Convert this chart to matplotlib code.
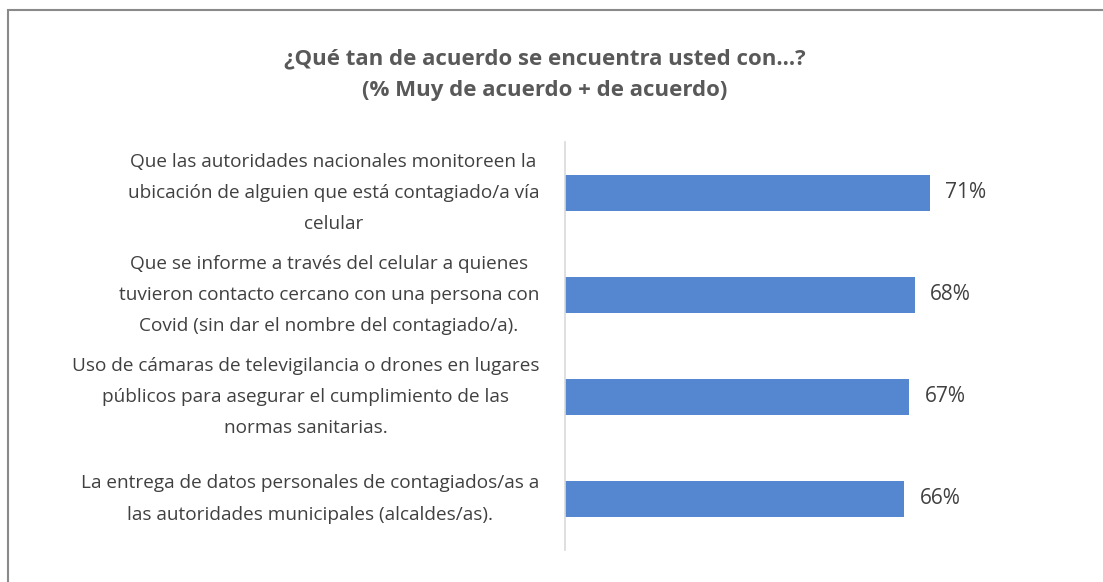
import matplotlib.pyplot as plt
from matplotlib.patches import Rectangle

# Datos
categorias = [
    "Que las autoridades nacionales monitoreen la\nubicación de alguien que está contagiado/a vía\ncelular",
    "Que se informe a través del celular a quienes\ntuvieron contacto cercano con una persona con\nCovid (sin dar el nombre del contagiado/a).",
    "Uso de cámaras de televigilancia o drones en lugares\npúblicos para asegurar el cumplimiento de las\nnormas sanitarias.",
    "La entrega de datos personales de contagiados/as a\nlas autoridades municipales (alcaldes/as).",
]
valores = [71, 68, 67, 66]
titulo = "¿Qué tan de acuerdo se encuentra usted con...?\n(% Muy de acuerdo + de acuerdo)"

plt.rcParams['font.family'] = ['Open Sans', 'DejaVu Sans']

W, H = 1103, 582
fig = plt.figure(figsize=(W / 100, H / 100), dpi=100)
fig.patch.set_facecolor('white')

# Marco del gráfico
fig.patches.append(Rectangle((8 / W, -0.1), 1.2, 1 - 10 / H + 0.1,
                             transform=fig.transFigure, fill=False,
                             edgecolor='#8a8a8a', linewidth=1.5))

ax = fig.add_axes([565 / W, 1 - 550 / H, 514 / W, 408 / H])
y = list(range(len(valores)))
ax.barh(y, valores, height=0.35, color='#5586D0')
ax.set_xlim(0, 100)
ax.set_ylim(len(valores) - 0.5, -0.5)

for yi, v in zip(y, valores):
    ax.text(v + 3, yi, f"{v}%", va='center', ha='left', fontsize=15, color='#404040')

for yi, c in zip(y, categorias):
    ax.text(-0.05, yi, c, transform=ax.get_yaxis_transform(), ha='right', va='center',
            multialignment='center', fontsize=13.7, color='#404040', linespacing=1.95)

ax.set_xticks([])
ax.set_yticks([])
for s in ['top', 'right', 'bottom']:
    ax.spines[s].set_visible(False)
ax.spines['left'].set_color('#d9d9d9')
ax.spines['left'].set_linewidth(1.2)

fig.text(545 / W, 1 - 75 / H, titulo, ha='center', va='center', fontsize=16,
         fontweight='bold', color='#595959', linespacing=1.65)

fig.savefig('out.png', dpi=100)
